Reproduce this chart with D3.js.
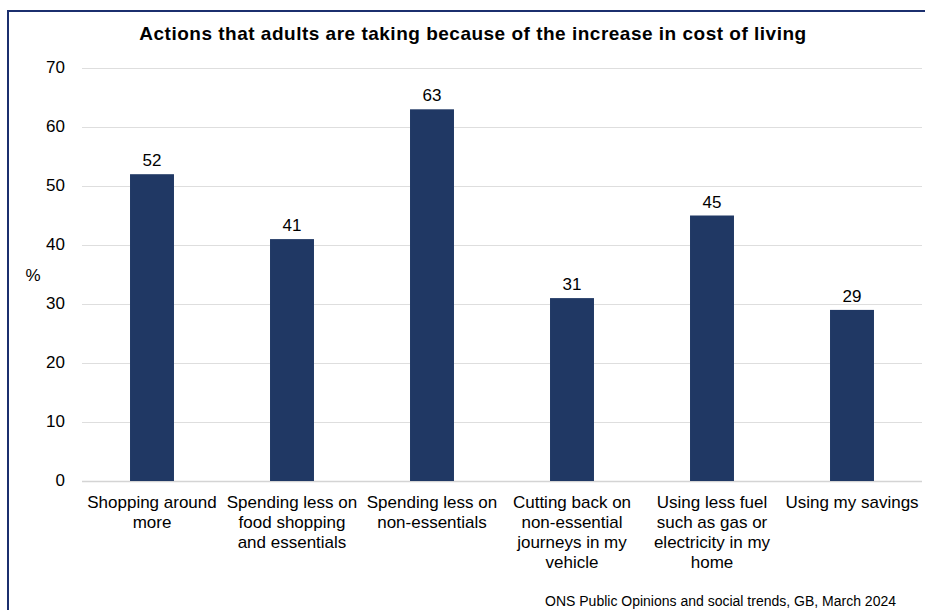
<!DOCTYPE html>
<html>
<head>
<meta charset="utf-8">
<script src="https://cdn.jsdelivr.net/npm/d3@7"></script>
<style>
  body { margin: 0; background: #ffffff; }
  svg { display: block; font-family: "Liberation Sans", Arial, sans-serif; }
</style>
</head>
<body>
<div id="chart"></div>
<script>
// data
const categories = [
    ["Shopping around", "more"],
    ["Spending less on", "food shopping", "and essentials"],
    ["Spending less on", "non-essentials"],
    ["Cutting back on", "non-essential", "journeys in my", "vehicle"],
    ["Using less fuel", "such as gas or", "electricity in my", "home"],
    ["Using my savings"]
];
const values = [52, 41, 63, 31, 45, 29];
const yTicks = [0, 10, 20, 30, 40, 50, 60, 70];

const width = 925, height = 610;
const margin = { top: 68, right: 3, bottom: 129, left: 82 };
const innerWidth = width - margin.left - margin.right;
const innerHeight = height - margin.top - margin.bottom;

const svg = d3.select("#chart").append("svg")
    .attr("width", width)
    .attr("height", height);

// outer frame, only top and left edges in view
svg.append("path")
    .attr("d", `M8,${height} V11 H${width}`)
    .attr("fill", "none")
    .attr("stroke", "#1b2f6e")
    .attr("stroke-width", 2);

svg.append("text")
    .attr("x", 473)
    .attr("y", 40)
    .attr("text-anchor", "middle")
    .attr("font-size", "19px")
    .attr("font-weight", "bold")
    .attr("letter-spacing", "0.5px")
    .attr("fill", "#000")
    .text("Actions that adults are taking because of the increase in cost of living");

// scales work in page coordinates so every label sits directly on the svg
const x = d3.scaleBand()
    .domain(d3.range(values.length))
    .range([margin.left, margin.left + innerWidth])
    .paddingInner(0.686)
    .paddingOuter(0.343);

const y = d3.scaleLinear()
    .domain([0, 70])
    .range([margin.top + innerHeight, margin.top]);

// gridlines
svg.selectAll("line.grid")
    .data(yTicks)
    .enter()
    .append("line")
    .attr("class", "grid")
    .attr("x1", margin.left)
    .attr("x2", margin.left + innerWidth)
    .attr("y1", d => y(d) + 0.5)
    .attr("y2", d => y(d) + 0.5)
    .attr("stroke", d => d === 0 ? "#d4d4d4" : "#dedede")
    .attr("stroke-width", d => d === 0 ? 1.5 : 1);

// y axis labels
svg.selectAll("text.ytick")
    .data(yTicks)
    .enter()
    .append("text")
    .attr("class", "ytick")
    .attr("x", margin.left - 17)
    .attr("y", d => y(d))
    .attr("dy", "0.32em")
    .attr("text-anchor", "end")
    .attr("font-size", "17px")
    .attr("fill", "#000")
    .text(d => d);

svg.append("text")
    .attr("x", 33)
    .attr("y", 281)
    .attr("text-anchor", "middle")
    .attr("font-size", "17px")
    .attr("fill", "#000")
    .text("%");

// bars
svg.selectAll("rect.bar")
    .data(values)
    .enter()
    .append("rect")
    .attr("class", "bar")
    .attr("x", (d, i) => x(i))
    .attr("y", d => y(d))
    .attr("width", x.bandwidth())
    .attr("height", d => y(0) - y(d))
    .attr("fill", "#203864");

// value labels
svg.selectAll("text.val")
    .data(values)
    .enter()
    .append("text")
    .attr("class", "val")
    .attr("x", (d, i) => x(i) + x.bandwidth() / 2)
    .attr("y", d => y(d) - 8)
    .attr("text-anchor", "middle")
    .attr("font-size", "17px")
    .attr("fill", "#000")
    .text(d => d);

// category labels
const cats = svg.selectAll("text.cat")
    .data(categories)
    .enter()
    .append("text")
    .attr("class", "cat")
    .attr("text-anchor", "middle")
    .attr("font-size", "17px")
    .attr("fill", "#000");

cats.selectAll("tspan")
    .data((d, i) => d.map(line => ({ line, i })))
    .enter()
    .append("tspan")
    .attr("x", d => x(d.i) + x.bandwidth() / 2)
    .attr("y", (d, j) => y(0) + 27 + j * 20)
    .text(d => d.line);

svg.append("text")
    .attr("x", 896)
    .attr("y", 606)
    .attr("text-anchor", "end")
    .attr("font-size", "14px")
    .attr("fill", "#000")
    .text("ONS Public Opinions and social trends, GB, March 2024");
</script>
</body>
</html>
